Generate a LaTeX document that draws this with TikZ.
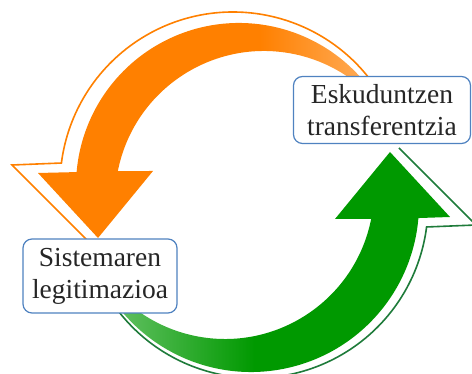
\documentclass[tikz,border=0pt]{standalone}
\usepackage{fontspec}
\setmainfont{Liberation Serif}
\definecolor{orA}{HTML}{FF8000}
\definecolor{orB}{HTML}{FFAA55}
\definecolor{grA}{HTML}{009900}
\definecolor{grB}{HTML}{62C062}
\definecolor{grL}{HTML}{1E7B3A}
\definecolor{boxB}{HTML}{4F82C0}
\pgfdeclarehorizontalshading{orsh}{100bp}{color(0bp)=(orA); color(57bp)=(orA); color(72bp)=(orB); color(100bp)=(orB)}
\pgfdeclarehorizontalshading{grsh}{100bp}{color(0bp)=(grB); color(29bp)=(grB); color(48bp)=(grA); color(100bp)=(grA)}
\begin{document}
\begin{tikzpicture}[x=1pt,y=1pt,
  lbl/.style={draw=boxB, line width=1.2pt, fill=white, rounded corners=9pt,
    align=center, text=black!85, font=\fontsize{27.5}{32}\selectfont, inner sep=0pt},
  rim/.style={line width=1.6pt, line join=miter}]
\useasboundingbox (0,0) rectangle (472,374);
% orange arrow: outline copy, then filled arrow
\draw[rim, orA] ([shift={(33.3:173pt)}]233,189) arc[start angle=33.3, end angle=172.7, radius=173pt]
  -- (12,209) -- (89,132);
\shade[shading=orsh]
  ([shift={(26.96:163pt)}]239,188) arc[start angle=26.96, end angle=175.1, radius=163pt]
  -- (38,201) -- (98,136) -- (153,203)
  -- ([shift={(168.8:149pt)}]264,174) arc[start angle=168.8, end angle=36.16, radius=149pt]
  -- cycle;
% green arrow: outline copy, then filled arrow
\draw[rim, grL] ([shift={(213.3:173pt)}]255,169) arc[start angle=213.3, end angle=352.7, radius=173pt]
  -- (476,149) -- (399,226);
\shade[shading=grsh]
  ([shift={(195.4:168pt)}]251,170) arc[start angle=195.4, end angle=355.2, radius=168pt]
  -- (450,157) -- (390,222) -- (335,155)
  -- ([shift={(348.8:149pt)}]225,184) arc[start angle=348.8, end angle=203.2, radius=149pt]
  -- cycle;
% labels
\node[lbl, minimum width=177pt, minimum height=67pt] (esk) at (382,264) {Eskuduntzen\\transferentzia};
\node[lbl, minimum width=154pt, minimum height=74pt] (sis) at (100,98) {Sistemaren\\legitimazioa};
\end{tikzpicture}
\end{document}
